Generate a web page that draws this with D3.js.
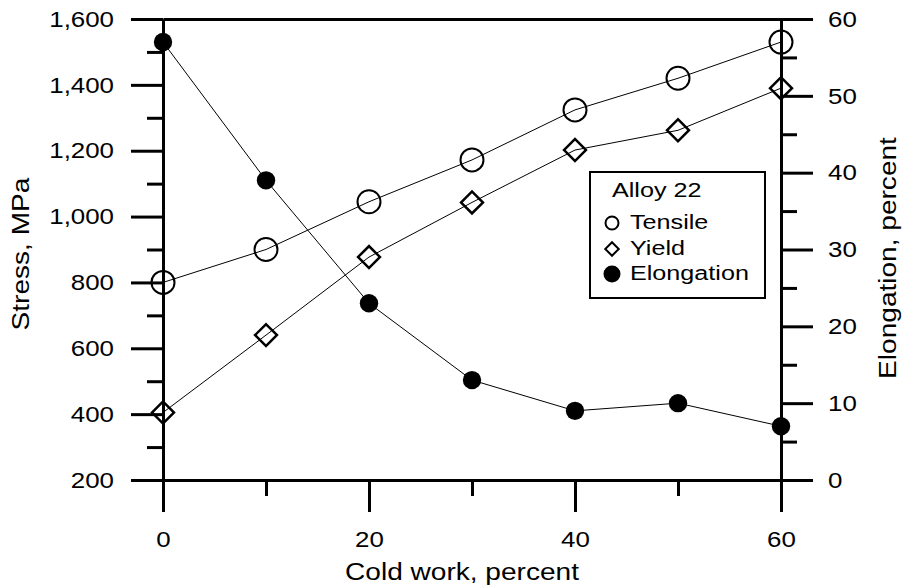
<!DOCTYPE html>
<html>
<head>
<meta charset="utf-8">
<script src="https://cdn.jsdelivr.net/npm/d3@7"></script>
<style>
  html, body { margin: 0; padding: 0; background: #fff; }
  svg text { font-family: "Liberation Sans", Arial, Helvetica, sans-serif; fill: #000; }
</style>
</head>
<body>
<svg id="chart" width="904" height="588"></svg>
<script>
// Cold work levels (percent)
const coldWork = [0, 10, 20, 30, 40, 50, 60];
// Stress, MPa
const tensile = [800, 900, 1045, 1172, 1324, 1420, 1530];
const yieldStress = [405, 640, 877, 1043, 1202, 1262, 1390];
// Elongation, percent
const elongation = [57, 39, 23, 13, 9, 10, 7];

const stressTicks = [200, 400, 600, 800, 1000, 1200, 1400, 1600];
const stressMinor = [300, 500, 700, 900, 1100, 1300, 1500];
const elongTicks = [0, 10, 20, 30, 40, 50, 60];
const elongMinor = [5, 15, 25, 35, 45, 55];
const xTicks = [0, 20, 40, 60];
const xMinor = [10, 30, 50];

const legendTitle = "Alloy 22";
const seriesNames = ["Tensile", "Yield", "Elongation"];

const svg = d3.select("#chart");
const L = 163, R = 781, T = 19, B = 480;
const major = 32, minor = 16, axisW = 3;
const tickFont = 22.5, tickStretch = 1.15;
const titleFont = 23, titleStretch = 1.22;
const legendFont = 19.5, legendStretch = 1.29;

const x = d3.scaleLinear().domain([0, 60]).range([L, R]);
const yS = d3.scaleLinear().domain([200, 1600]).range([B, T]);
const yE = d3.scaleLinear().domain([0, 60]).range([B, T]);

const fmt = d3.format(",");

// widen glyphs horizontally (the lettering is broader than plain Arial)
function stretch(sel, k) {
  sel.each(function () {
    const len = this.getComputedTextLength();
    d3.select(this).attr("textLength", len * k).attr("lengthAdjust", "spacingAndGlyphs");
  });
}

function styleAxis(g) {
  g.attr("font-family", null).attr("font-size", null);
  g.selectAll("path.domain").attr("stroke", "#000").attr("stroke-width", axisW);
  g.selectAll(".tick line").attr("stroke", "#000").attr("stroke-width", axisW);
  g.selectAll(".tick text").attr("font-size", tickFont).call(stretch, tickStretch);
}

// left stress axis
svg.append("g").attr("transform", `translate(${L},0)`)
  .call(d3.axisLeft(yS).tickValues(stressMinor).tickSize(minor).tickSizeOuter(0).tickFormat(""))
  .call(styleAxis);
svg.append("g").attr("transform", `translate(${L},0)`)
  .call(d3.axisLeft(yS).tickValues(stressTicks).tickSize(major).tickSizeOuter(0).tickPadding(17).tickFormat(fmt))
  .call(styleAxis);

// right elongation axis
svg.append("g").attr("transform", `translate(${R},0)`)
  .call(d3.axisRight(yE).tickValues(elongMinor).tickSize(minor).tickSizeOuter(0).tickFormat(""))
  .call(styleAxis);
svg.append("g").attr("transform", `translate(${R},0)`)
  .call(d3.axisRight(yE).tickValues(elongTicks).tickSize(major).tickSizeOuter(0).tickPadding(15))
  .call(styleAxis);

// bottom cold work axis
svg.append("g").attr("transform", `translate(0,${B})`)
  .call(d3.axisBottom(x).tickValues(xMinor).tickSize(minor).tickSizeOuter(0).tickFormat(""))
  .call(styleAxis);
svg.append("g").attr("transform", `translate(0,${B})`)
  .call(d3.axisBottom(x).tickValues(xTicks).tickSize(major).tickSizeOuter(0).tickPadding(19))
  .call(styleAxis);

// top frame line
svg.append("g").attr("transform", `translate(0,${T})`)
  .call(d3.axisTop(x).tickValues([]).tickSizeOuter(0))
  .call(styleAxis);

// axis titles
svg.append("text")
  .attr("transform", `translate(29,254) rotate(-90)`)
  .attr("text-anchor", "middle").attr("font-size", titleFont)
  .text("Stress, MPa").call(stretch, titleStretch);
svg.append("text")
  .attr("transform", `translate(896,258) rotate(-90)`)
  .attr("text-anchor", "middle").attr("font-size", titleFont)
  .text("Elongation, percent").call(stretch, titleStretch);
svg.append("text")
  .attr("x", 462).attr("y", 580)
  .attr("text-anchor", "middle").attr("font-size", titleFont)
  .text("Cold work, percent").call(stretch, titleStretch);

// data lines
const lineS = d3.line().x((d, i) => x(coldWork[i])).y(d => yS(d));
const lineE = d3.line().x((d, i) => x(coldWork[i])).y(d => yE(d));
const plot = svg.append("g");
plot.append("path").datum(tensile).attr("d", lineS).attr("fill", "none").attr("stroke", "#000").attr("stroke-width", 1);
plot.append("path").datum(yieldStress).attr("d", lineS).attr("fill", "none").attr("stroke", "#000").attr("stroke-width", 1);
plot.append("path").datum(elongation).attr("d", lineE).attr("fill", "none").attr("stroke", "#000").attr("stroke-width", 1);

const circleSym = d3.symbol().type(d3.symbolCircle).size(Math.PI * 11.5 * 11.5);
const diamondSym = d3.symbol().type(d3.symbolSquare).size(15.5 * 15.5);
const dotSym = d3.symbol().type(d3.symbolCircle).size(Math.PI * 9.2 * 9.2);

plot.selectAll(".ten").data(tensile).join("path")
  .attr("transform", (d, i) => `translate(${x(coldWork[i])},${yS(d)})`)
  .attr("d", circleSym).attr("fill", "none").attr("stroke", "#000").attr("stroke-width", 2);
plot.selectAll(".yld").data(yieldStress).join("path")
  .attr("transform", (d, i) => `translate(${x(coldWork[i])},${yS(d)}) rotate(45)`)
  .attr("d", diamondSym).attr("fill", "none").attr("stroke", "#000").attr("stroke-width", 2.5);
plot.selectAll(".elg").data(elongation).join("path")
  .attr("transform", (d, i) => `translate(${x(coldWork[i])},${yE(d)})`)
  .attr("d", dotSym).attr("fill", "#000");

// legend
const lg = svg.append("g");
lg.append("rect").attr("x", 590).attr("y", 172).attr("width", 175).attr("height", 126)
  .attr("fill", "#fff").attr("stroke", "#000").attr("stroke-width", 2);
lg.append("text").attr("x", 612).attr("y", 197).attr("font-size", legendFont)
  .text(legendTitle).call(stretch, legendStretch);
const legSyms = [
  { sym: d3.symbol().type(d3.symbolCircle).size(Math.PI * 6.5 * 6.5), fill: "none", rot: 0, y: 223 },
  { sym: d3.symbol().type(d3.symbolSquare).size(9.5 * 9.5), fill: "none", rot: 45, y: 249 },
  { sym: d3.symbol().type(d3.symbolCircle).size(Math.PI * 7.5 * 7.5), fill: "#000", rot: 0, y: 274 }
];
const legBase = [229, 255, 280];
seriesNames.forEach((name, i) => {
  lg.append("path").attr("transform", `translate(612,${legSyms[i].y}) rotate(${legSyms[i].rot})`)
    .attr("d", legSyms[i].sym).attr("fill", legSyms[i].fill).attr("stroke", "#000").attr("stroke-width", 2);
  lg.append("text").attr("x", 630).attr("y", legBase[i]).attr("font-size", legendFont)
    .text(name).call(stretch, legendStretch);
});
</script>
</body>
</html>
